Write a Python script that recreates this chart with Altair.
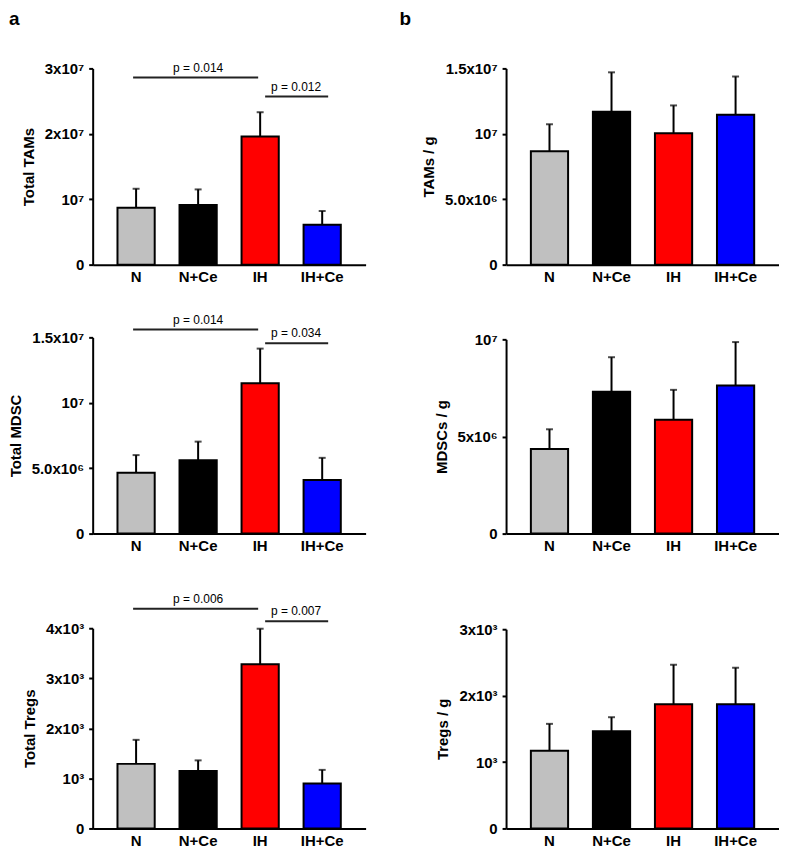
import altair as alt
import pandas as pd

groups = ["N", "N+Ce", "IH", "IH+Ce"]
colors = ["#C0C0C0", "#000000", "#FF0000", "#0000FF"]

# ---- column a ----
tams_total_mean = [8.7e6, 9.1e6, 1.96e7, 6.1e6]
tams_total_err = [2.9e6, 2.4e6, 3.7e6, 2.1e6]
tams_total_ticks = [0, 1e7, 2e7, 3e7]
tams_total_labels = ["0", "10⁷", "2x10⁷", "3x10⁷"]
tams_total_br_y = [2.86e7, 2.57e7]
tams_total_p = ["p = 0.014", "p = 0.012"]

mdsc_total_mean = [4.65e6, 5.6e6, 1.15e7, 4.1e6]
mdsc_total_err = [1.35e6, 1.43e6, 2.64e6, 1.69e6]
mdsc_total_ticks = [0, 5e6, 1e7, 1.5e7]
mdsc_total_labels = ["0", "5.0x10⁶", "10⁷", "1.5x10⁷"]
mdsc_total_br_y = [1.56e7, 1.455e7]
mdsc_total_p = ["p = 0.014", "p = 0.034"]

tregs_total_mean = [1290, 1150, 3280, 900]
tregs_total_err = [480, 210, 710, 270]
tregs_total_ticks = [0, 1000, 2000, 3000, 4000]
tregs_total_labels = ["0", "10³", "2x10³", "3x10³", "4x10³"]
tregs_total_br_y = [4390, 4140]
tregs_total_p = ["p = 0.006", "p = 0.007"]

# ---- column b ----
tams_g_mean = [8.67e6, 1.168e7, 1.005e7, 1.145e7]
tams_g_err = [2.06e6, 3.02e6, 2.12e6, 2.93e6]
tams_g_ticks = [0, 5e6, 1e7, 1.5e7]
tams_g_labels = ["0", "5.0x10⁶", "10⁷", "1.5x10⁷"]

mdsc_g_mean = [4.36e6, 7.3e6, 5.86e6, 7.62e6]
mdsc_g_err = [1.01e6, 1.78e6, 1.54e6, 2.24e6]
mdsc_g_ticks = [0, 5e6, 1e7]
mdsc_g_labels = ["0", "5x10⁶", "10⁷"]

tregs_g_mean = [1170, 1465, 1870, 1870]
tregs_g_err = [405, 210, 595, 550]
tregs_g_ticks = [0, 1000, 2000, 3000]
tregs_g_labels = ["0", "10³", "2x10³", "3x10³"]

br_from = ["N", "IH"]
br_to = ["IH", "IH+Ce"]
br_mid = ["N+Ce", "IH"]

W = 274
FONT = "Liberation Sans"


def panel(title, means, errs, ticks, labels, rng, br_y=None, br_p=None, letter=None):
    df = pd.DataFrame({"g": groups, "m": means,
                       "top": [m + e for m, e in zip(means, errs)]})
    dmax = ticks[-1]
    xs = alt.Scale(domain=groups, paddingInner=0.4, paddingOuter=0.4)
    ys = alt.Scale(domain=[0, dmax], range=rng, nice=False, zero=True)
    expr = ("[" + ",".join("'%s'" % l for l in labels) + "][indexof(["
            + ",".join(str(int(v)) for v in ticks) + "], datum.value)]")
    x = alt.X("g:N", scale=xs, sort=groups,
              axis=alt.Axis(title=None, labelAngle=0, labelAlign="center",
                            labelBaseline="top", ticks=False))
    y = alt.Y("m:Q", scale=ys, title=title,
              axis=alt.Axis(values=ticks, labelExpr=expr, labelFlush=False, grid=False))
    base = alt.Chart(df)
    bars = base.mark_bar(stroke="black", strokeWidth=2).encode(
        x=x, y=y,
        color=alt.Color("g:N", scale=alt.Scale(domain=groups, range=colors), legend=None))
    err = base.mark_rule(color="black", strokeWidth=2).encode(
        x=alt.X("g:N", sort=groups), y=alt.Y("top:Q", title=title), y2="m:Q")
    cap = base.mark_tick(color="black", thickness=2, size=7).encode(
        x=alt.X("g:N", sort=groups), y=alt.Y("top:Q", title=title))
    layers = [err, cap, bars]
    if br_y is not None:
        offs = [(-3, -2, 0), (5, 6, 36)]
        for i in range(2):
            bdf = pd.DataFrame({"f": [br_from[i]], "t": [br_to[i]], "mid": [br_mid[i]],
                                "y": [br_y[i]], "p": [br_p[i]]})
            xo, x2o, dx = offs[i]
            rule = alt.Chart(bdf).mark_rule(color="#222222", strokeWidth=2,
                                            xOffset=xo, x2Offset=x2o).encode(
                x=alt.X("f:N", sort=groups), x2="t:N", y=alt.Y("y:Q", title=title))
            txt = alt.Chart(bdf).mark_text(font=FONT, fontSize=12, color="black",
                                           baseline="alphabetic", dy=-6, dx=dx).encode(
                x=alt.X("mid:N", sort=groups), y=alt.Y("y:Q", title=title), text="p:N")
            layers += [rule, txt]
    if letter is not None:
        lt = alt.Chart(pd.DataFrame({"l": [letter[0]]})).mark_text(
            font=FONT, fontSize=19, fontWeight="bold", align="left", baseline="top",
            color="black").encode(x=alt.value(letter[1]), y=alt.value(letter[2]), text="l:N")
        layers.append(lt)
    h = rng[0]
    return alt.layer(*layers).properties(width=W, height=h)


S = 40
p1 = panel("Total TAMs", tams_total_mean, tams_total_err, tams_total_ticks,
           tams_total_labels, [197, 0], tams_total_br_y, tams_total_p, ("a", -84, -59))
p2 = panel("TAMs / g", tams_g_mean, tams_g_err, tams_g_ticks, tams_g_labels,
           [197, 0], letter=("b", -107, -59))
p3 = panel("Total MDSC", mdsc_total_mean, mdsc_total_err, mdsc_total_ticks,
           mdsc_total_labels, [230, 33], mdsc_total_br_y, mdsc_total_p)
p4 = panel("MDSCs / g", mdsc_g_mean, mdsc_g_err, mdsc_g_ticks, mdsc_g_labels,
           [230, 35])
p5 = panel("Total Tregs", tregs_total_mean, tregs_total_err, tregs_total_ticks,
           tregs_total_labels, [256, 55], tregs_total_br_y, tregs_total_p)
p6 = panel("Tregs / g", tregs_g_mean, tregs_g_err, tregs_g_ticks, tregs_g_labels,
           [256, 56])

chart = alt.concat(p1, p2, p3, p4, p5, p6, columns=2,
                   spacing={"row": S, "column": 141}).properties(
    bounds="flush", padding=0
).configure_view(stroke=None).configure_axis(
    labelFont=FONT, labelFontWeight="bold", labelFontSize=15, labelColor="black",
    titleFont=FONT, titleFontWeight="bold", titleFontSize=15, titleColor="black",
    domainColor="black", domainWidth=2, tickColor="black", tickWidth=2, tickSize=4,
    grid=False
).configure_axisX(labelFontSize=15, labelPadding=5).configure_axisY(
    labelPadding=5, titlePadding=8)

chart.save("out.html", embed_options={"renderer": "svg", "actions": False})
